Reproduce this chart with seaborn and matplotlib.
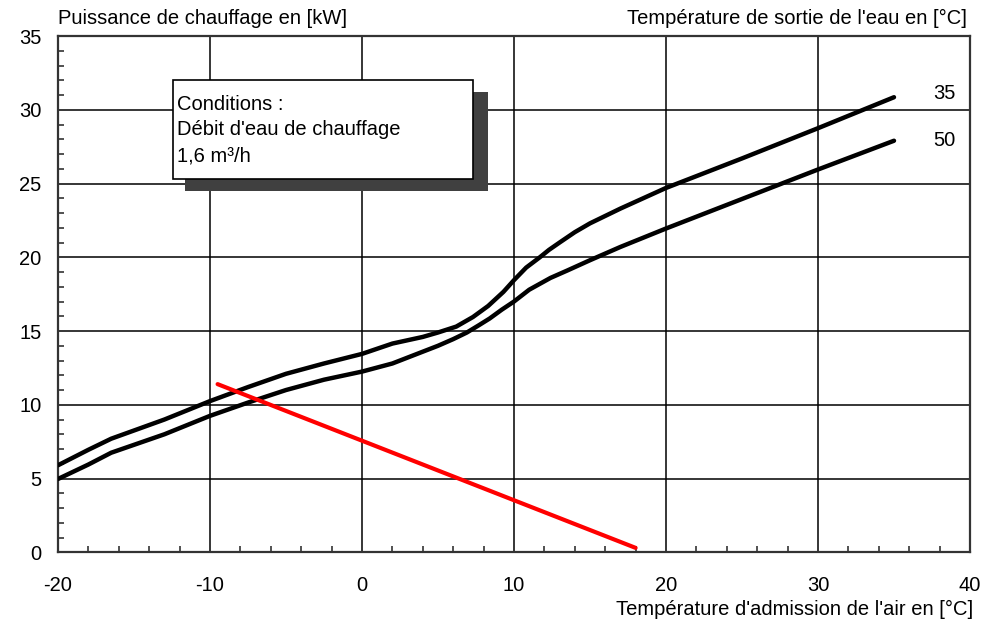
import matplotlib
matplotlib.use("Agg")
import matplotlib.pyplot as plt
import seaborn as sns
import pandas as pd
from matplotlib.patches import Rectangle
from matplotlib.ticker import MultipleLocator

# ---- data ----
x_35 = [-20, -18, -16.5, -13, -10, -7.5, -5, -2.5, 0, 2, 4, 5, 6.2, 7.3, 8.3, 9.3, 10, 10.8, 11.7, 12.3, 13, 14, 15, 17, 20, 25, 30, 35]
y_35 = [5.9, 6.95, 7.7, 9.0, 10.25, 11.2, 12.1, 12.8, 13.45, 14.15, 14.6, 14.9, 15.3, 15.95, 16.7, 17.65, 18.45, 19.3, 20.0, 20.5, 21.0, 21.7, 22.3, 23.3, 24.7, 26.7, 28.75, 30.85]
x_50 = [-20, -18, -16.5, -13, -10, -7.5, -5, -2.5, 0, 2, 3.5, 5, 6, 6.9, 7.7, 8.4, 9.2, 10, 11, 12.4, 13.5, 15, 17, 20, 25, 30, 35]
y_50 = [4.97, 5.95, 6.75, 8.0, 9.25, 10.15, 11.0, 11.7, 12.25, 12.8, 13.4, 14.0, 14.45, 14.9, 15.4, 15.85, 16.45, 17.0, 17.8, 18.6, 19.1, 19.8, 20.7, 21.95, 23.95, 25.95, 27.9]
x_red = [-9.5, 18.0]
y_red = [11.4, 0.3]
curve_labels = ["35", "50"]
x_ticks = [-20, -10, 0, 10, 20, 30, 40]
y_ticks = [0, 5, 10, 15, 20, 25, 30, 35]
box_lines = ["Conditions :", "Débit d'eau de chauffage", "1,6 m³/h"]
ylabel_text = "Puissance de chauffage en [kW]"
legend_title = "Température de sortie de l'eau en [°C]"
xlabel_text = "Température d'admission de l'air en [°C]"

sns.set_style("white")
plt.rcParams["font.family"] = ["Liberation Sans", "DejaVu Sans"]
plt.rcParams["text.color"] = "black"
plt.rcParams["xtick.color"] = "black"
plt.rcParams["ytick.color"] = "black"

FS = 14.5

fig = plt.figure(figsize=(9.88, 6.21), dpi=100)
ax = fig.add_axes([58 / 988, 1 - 552.3 / 621, (970 - 58) / 988, (552.3 - 36) / 621])

df35 = pd.DataFrame({"x": x_35, "y": y_35})
df50 = pd.DataFrame({"x": x_50, "y": y_50})
dfr = pd.DataFrame({"x": x_red, "y": y_red})

sns.lineplot(data=df35, x="x", y="y", ax=ax, color="black", lw=3.2, sort=False,
             solid_capstyle="round", solid_joinstyle="round", zorder=5)
sns.lineplot(data=df50, x="x", y="y", ax=ax, color="black", lw=3.2, sort=False,
             solid_capstyle="round", solid_joinstyle="round", zorder=5)
sns.lineplot(data=dfr, x="x", y="y", ax=ax, color="#ff0000", lw=3.0, sort=False, zorder=6)

ax.set_xlim(-20, 40)
ax.set_ylim(0, 35)
ax.set_xticks(x_ticks)
ax.set_yticks(y_ticks)
ax.set_xticklabels([str(t) for t in x_ticks], fontsize=FS, color="black")
ax.set_yticklabels([str(t) for t in y_ticks], fontsize=FS, color="black")
ax.xaxis.set_minor_locator(MultipleLocator(2))
ax.yaxis.set_minor_locator(MultipleLocator(1))
ax.tick_params(axis="x", which="major", length=0, pad=17)
ax.tick_params(axis="y", which="major", length=0, pad=12)
ax.tick_params(which="minor", direction="in", length=4, width=1.2, color="#333333",
               bottom=True, left=True, top=False, right=False)
ax.grid(True, which="major", color="black", lw=1.1, zorder=1)
ax.set_axisbelow(True)
for s in ax.spines.values():
    s.set_color("#333333")
    s.set_linewidth(1.6)
ax.set_xlabel("")
ax.set_ylabel("")

# conditions box with shadow
ax.add_patch(Rectangle((-11.64, 24.52), 8.27 + 11.64, 31.23 - 24.52,
                       facecolor="#404040", edgecolor="none", zorder=7))
ax.add_patch(Rectangle((-12.43, 25.32), 7.3 + 12.43, 32.0 - 25.32,
                       facecolor="white", edgecolor="black", lw=1.2, zorder=8))
for line, yy in zip(box_lines, [30.39, 28.63, 26.87]):
    ax.text(-12.2, yy, line, fontsize=FS, va="center", ha="left", zorder=9, color="black")

# curve labels
ax.text(38.3, 31.1, curve_labels[0], fontsize=FS, va="center", ha="center", color="black")
ax.text(38.3, 27.9, curve_labels[1], fontsize=FS, va="center", ha="center", color="black")

fig.text(58 / 988, 1 - 18 / 621, ylabel_text, fontsize=FS, va="center", ha="left", color="black")
fig.text(967 / 988, 1 - 18 / 621, legend_title, fontsize=FS, va="center", ha="right", color="black")
fig.text(973 / 988, 1 - 609 / 621, xlabel_text, fontsize=FS, va="center", ha="right", color="black")

fig.savefig("out.png", dpi=100)
